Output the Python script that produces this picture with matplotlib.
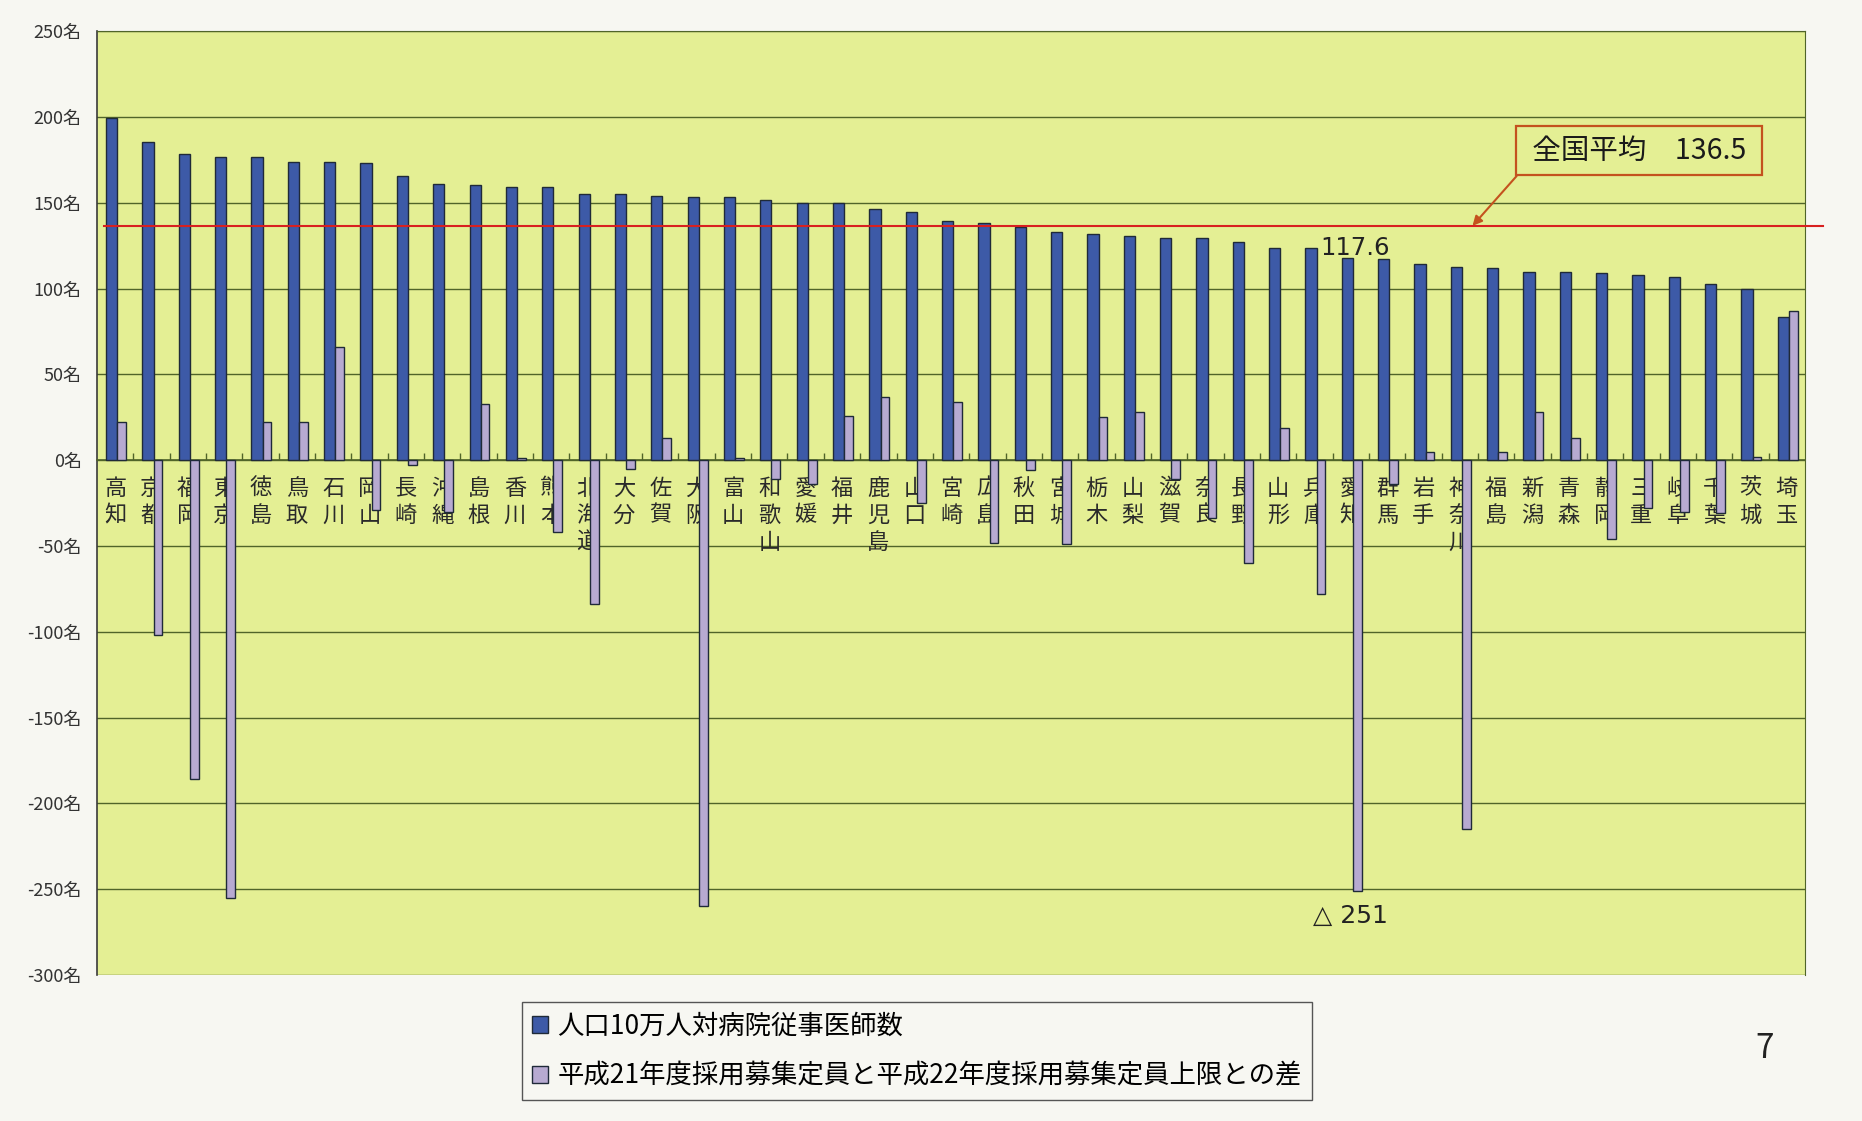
import matplotlib
matplotlib.use("Agg")
import matplotlib.pyplot as plt
import numpy as np

plt.rcParams['font.family'] = ['Noto Sans CJK JP', 'DejaVu Sans']

# 都道府県 (sorted by doctors per 100k)
prefectures = ['高知', '京都', '福岡', '東京', '徳島', '鳥取', '石川', '岡山', '長崎', '沖縄',
               '島根', '香川', '熊本', '北海道', '大分', '佐賀', '大阪', '富山', '和歌山', '愛媛',
               '福井', '鹿児島', '山口', '宮崎', '広島', '秋田', '宮城', '栃木', '山梨', '滋賀',
               '奈良', '長野', '山形', '兵庫', '愛知', '群馬', '岩手', '神奈川', '福島', '新潟',
               '青森', '静岡', '三重', '岐阜', '千葉', '茨城', '埼玉']

doctors = [199.2, 185.6, 178.4, 176.9, 176.9, 173.8, 173.5, 173.4, 165.6, 160.9,
           160.2, 159.4, 159.4, 154.9, 154.9, 153.9, 153.2, 153.2, 151.6, 149.7,
           149.7, 146.2, 144.8, 139.6, 138.0, 135.7, 133.1, 131.6, 130.8, 129.3,
           129.3, 126.9, 123.8, 123.8, 117.6, 117.3, 114.1, 112.3, 112.1, 109.8,
           109.8, 108.8, 107.9, 106.5, 102.4, 99.5, 83.6]

quota_diff = [22, -102, -186, -255, 22, 22, 66, -29, -3, -30,
              33, 1, -42, -84, -5, 13, -260, 1.5, -11, -14,
              26, 37, -25, 34, -48, -6, -49, 25, 28, -11,
              -34, -60, 19, -78, -251, -14, 4.5, -215, 5, 28,
              13, -46, -28, -30, -31, 2, 87]

national_avg = 136.5
yticks = list(range(-300, 251, 50))
legend_labels = ['人口10万人対病院従事医師数',
                 '平成21年度採用募集定員と平成22年度採用募集定員上限との差']

paper = '#f7f7f2'
plot_bg = '#e4ef94'
blue = '#3d5aa7'
lilac = '#b7aad1'
edge = '#1f2a38'
grid_c = '#506429'

fig = plt.figure(figsize=(18.62, 11.21), dpi=100, facecolor=paper)
ax = fig.add_axes([0.0521, 0.1302, 0.9173, 0.8421])
ax.set_facecolor(plot_bg)

x = np.arange(len(prefectures))
b1 = ax.bar(x - 0.095, doctors, width=0.31, color=blue, edgecolor=edge, linewidth=1, zorder=3)
b2 = ax.bar(x + 0.18, quota_diff, width=0.24, color=lilac, edgecolor=edge, linewidth=1, zorder=3)

ax.set_xlim(-0.5, len(prefectures) - 0.5)
ax.set_ylim(-300, 250)
ax.set_yticks(yticks)
ax.set_yticklabels([f'{v}名' for v in yticks], fontsize=13, color='#333333')
ax.tick_params(axis='y', length=0, pad=11)

ax.grid(axis='y', color=grid_c, linewidth=1)
ax.set_axisbelow(True)

# x axis sits at zero, ticks between the groups
ax.spines['bottom'].set_position(('data', 0))
ax.spines['bottom'].set_color(grid_c)
ax.spines['bottom'].set_linewidth(1.2)
ax.set_xticks(x[:-1] + 0.5)
ax.set_xticklabels([])
ax.tick_params(axis='x', direction='in', length=5, color=grid_c, width=1)
for s in ['top', 'right']:
    ax.spines[s].set_color(grid_c)
ax.spines['left'].set_color('#3a3a3a')
ax.spines['left'].set_linewidth(1.2)

# vertical prefecture names under the zero line
for i, name in enumerate(prefectures):
    for k, ch in enumerate(name):
        ax.annotate(ch, xy=(i, 0), xytext=(0, -(28 + 27 * k) * 0.72), textcoords='offset points',
                    ha='center', va='center', fontsize=16, color='#2a2a2a', zorder=2)

# national average
ax.axhline(national_avg, xmin=0.004, xmax=1.0105, color='#d82020', linewidth=1.5,
           clip_on=False, zorder=4)
ax.annotate(' 全国平均\u3000136.5 ', xy=(37.35, national_avg), xytext=(41.93, 180.2),
            ha='center', va='center', fontsize=20.5, color='#1a1a1a',
            bbox=dict(boxstyle='square,pad=0.33', fc=plot_bg, ec='#c4521e', lw=1.6),
            arrowprops=dict(arrowstyle='-|>', color='#c4521e', lw=1.5, relpos=(0, 0),
                            mutation_scale=14, shrinkA=0, shrinkB=0),
            zorder=5)

aichi = prefectures.index('愛知')
ax.annotate(f'{doctors[aichi]:.1f}', xy=(aichi, doctors[aichi]), xytext=(3, 7.5),
            textcoords='offset points', ha='center', va='center', fontsize=17.5,
            family='DejaVu Sans', color='#222222', zorder=5)
ax.annotate(f'△ {abs(quota_diff[aichi])}', xy=(aichi, quota_diff[aichi]), xytext=(0, -9),
            textcoords='offset points', ha='center', va='top', fontsize=18,
            family='DejaVu Sans', color='#222222', zorder=5)

leg = fig.legend([b1, b2], legend_labels, loc='upper left', bbox_to_anchor=(0.273, 0.118),
                 fontsize=19, frameon=True, fancybox=False, edgecolor='#555555',
                 facecolor=paper, framealpha=1, handlelength=0.6, handleheight=0.6,
                 handletextpad=0.35, labelspacing=0.88, borderpad=0.4)
leg.get_frame().set_linewidth(1)

fig.text(1765 / 1862, 1 - 1048 / 1121, '7', fontsize=24, ha='center', va='center', color='#222222')

fig.savefig('out.png', dpi=100, facecolor=paper)
